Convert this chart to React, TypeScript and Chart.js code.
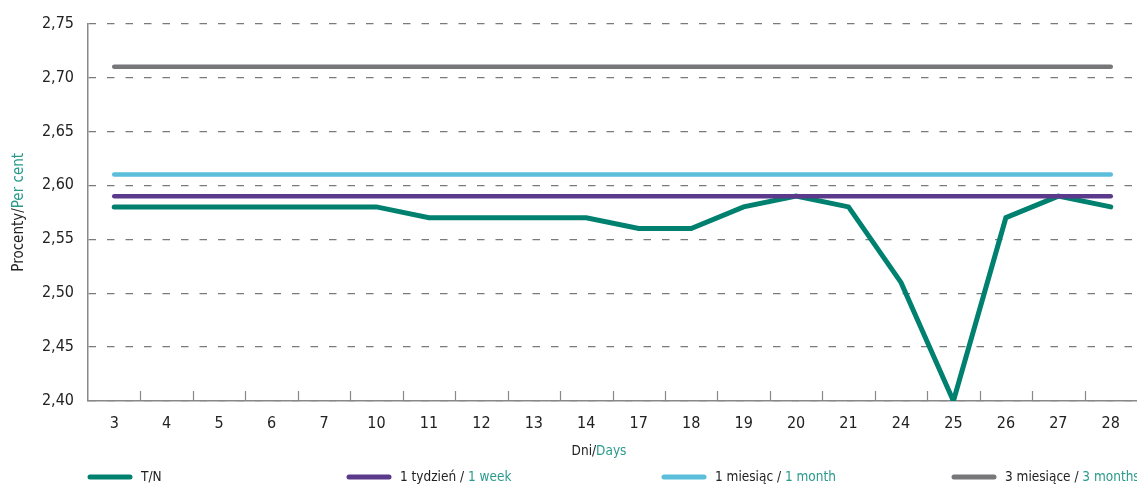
import React, { useEffect, useRef } from "react";
import { Chart, registerables } from "chart.js";

Chart.register(...registerables);

const days = ["3","4","5","6","7","10","11","12","13","14","17","18","19","20","21","24","25","26","27","28"];
const tn = [2.58,2.58,2.58,2.58,2.58,2.58,2.57,2.57,2.57,2.57,2.56,2.56,2.58,2.59,2.58,2.51,2.40,2.57,2.59,2.58];
const week1 = [2.59,2.59,2.59,2.59,2.59,2.59,2.59,2.59,2.59,2.59,2.59,2.59,2.59,2.59,2.59,2.59,2.59,2.59,2.59,2.59];
const month1 = [2.61,2.61,2.61,2.61,2.61,2.61,2.61,2.61,2.61,2.61,2.61,2.61,2.61,2.61,2.61,2.61,2.61,2.61,2.61,2.61];
const month3 = [2.71,2.71,2.71,2.71,2.71,2.71,2.71,2.71,2.71,2.71,2.71,2.71,2.71,2.71,2.71,2.71,2.71,2.71,2.71,2.71];

const seriesNamesPL = ["T/N", "1 tydzień / ", "1 miesiąc / ", "3 miesiące / "];
const seriesNamesEN = ["", "1 week", "1 month", "3 months"];
const colors = ["#00806f", "#5b3a8c", "#5bbfdc", "#77777a"];
const yTitle = ["Procenty/", "Per cent"];
const xTitle = ["Dni/", "Days"];

const FONT = '"Liberation Sans Narrow", "DejaVu Sans Condensed", "Roboto", sans-serif';
const TEAL = "#2a9a8c";
const DARK = "#222222";

const decorPlugin = {
  id: "decor",
  afterDraw(chart: any) {
    const ctx = chart.ctx;
    const area = chart.chartArea;
    const xs = chart.scales.x;
    ctx.save();
    // inner tick marks between categories
    const n = xs.ticks.length;
    ctx.strokeStyle = "#888888";
    ctx.lineWidth = 1.2;
    for (let i = 1; i < n; i++) {
      const x = Math.round((xs.getPixelForValue(i - 1) + xs.getPixelForValue(i)) / 2) + 0.5;
      ctx.beginPath();
      ctx.moveTo(x, area.bottom - 10);
      ctx.lineTo(x, area.bottom);
      ctx.stroke();
    }
    // y title
    ctx.font = `15px ${FONT}`;
    ctx.textBaseline = "middle";
    ctx.save();
    ctx.translate(19, (area.top + area.bottom) / 2);
    ctx.rotate(-Math.PI / 2);
    const w1 = ctx.measureText(yTitle[0]).width;
    const w2 = ctx.measureText(yTitle[1]).width;
    let sx = -(w1 + w2) / 2;
    ctx.textAlign = "left";
    ctx.fillStyle = DARK;
    ctx.fillText(yTitle[0], sx, 0);
    ctx.fillStyle = TEAL;
    ctx.fillText(yTitle[1], sx + w1, 0);
    ctx.restore();
    // x title
    ctx.font = `13.5px ${FONT}`;
    {
      const a = ctx.measureText(xTitle[0]).width;
      const b = ctx.measureText(xTitle[1]).width;
      const cx = 599;
      let x0 = cx - (a + b) / 2;
      ctx.textAlign = "left";
      ctx.fillStyle = DARK;
      ctx.fillText(xTitle[0], x0, 451);
      ctx.fillStyle = TEAL;
      ctx.fillText(xTitle[1], x0 + a, 451);
    }
    // legend
    const starts = [88, 347, 662, 952];
    const ly = 477;
    for (let i = 0; i < 4; i++) {
      const x0 = starts[i];
      ctx.strokeStyle = colors[i];
      ctx.lineWidth = 5;
      ctx.lineCap = "round";
      ctx.beginPath();
      ctx.moveTo(x0 + 2, ly);
      ctx.lineTo(x0 + 42, ly);
      ctx.stroke();
      const tx = x0 + 53;
      ctx.fillStyle = DARK;
      ctx.fillText(seriesNamesPL[i], tx, ly);
      const pw = ctx.measureText(seriesNamesPL[i]).width;
      ctx.fillStyle = TEAL;
      ctx.fillText(seriesNamesEN[i], tx + pw, ly);
    }
    ctx.restore();
  },
};

export default function App() {
  const ref = useRef<HTMLCanvasElement>(null);
  useEffect(() => {
    if (!ref.current) return;
    const mk = (label: string, data: number[], color: string, width: number) => ({
      label,
      data,
      borderColor: color,
      backgroundColor: color,
      borderWidth: width,
      pointRadius: 0,
      borderCapStyle: "round" as const,
      borderJoinStyle: "miter" as const,
      tension: 0,
      fill: false,
    });
    const chart = new Chart(ref.current, {
      type: "line",
      data: {
        labels: days,
        datasets: [
          mk("3 miesiące / 3 months", month3, colors[3], 4.5),
          mk("1 miesiąc / 1 month", month1, colors[2], 4.5),
          mk("1 tydzień / 1 week", week1, colors[1], 4.5),
          mk("T/N", tn, colors[0], 5),
        ],
      },
      options: {
        responsive: false,
        animation: false,
        maintainAspectRatio: false,
        layout: { padding: { top: 23, right: 0, bottom: 0, left: 0 } },
        plugins: { legend: { display: false }, title: { display: false }, tooltip: { enabled: false } },
        scales: {
          x: {
            offset: true,
            grid: { display: false, drawTicks: false },
            border: { display: true, color: "#888888", width: 1.5 },
            ticks: { color: DARK, font: { family: FONT, size: 16 }, padding: 13, maxRotation: 0, autoSkip: false },
            afterFit: (s: any) => { s.height = 83; },
          },
          y: {
            min: 2.4,
            max: 2.75,
            grid: { color: "#7a7a7a", lineWidth: 1.2, drawTicks: false },
            border: { display: true, color: "#888888", width: 1.5, dash: [7.5, 11] },
            ticks: {
              stepSize: 0.05,
              color: DARK,
              font: { family: FONT, size: 16 },
              padding: 14,
              callback: (v: any) => Number(v).toFixed(2).replace(".", ","),
            },
            afterFit: (s: any) => { s.width = 88; },
          },
        },
      },
      plugins: [decorPlugin],
    } as any);
    return () => chart.destroy();
  }, []);
  return (
    <div style={{ position: "absolute", left: 0, top: 0, width: 1137, height: 484, background: "#fff" }}>
      <canvas ref={ref} width={1137} height={484} style={{ width: 1137, height: 484 }} />
    </div>
  );
}
